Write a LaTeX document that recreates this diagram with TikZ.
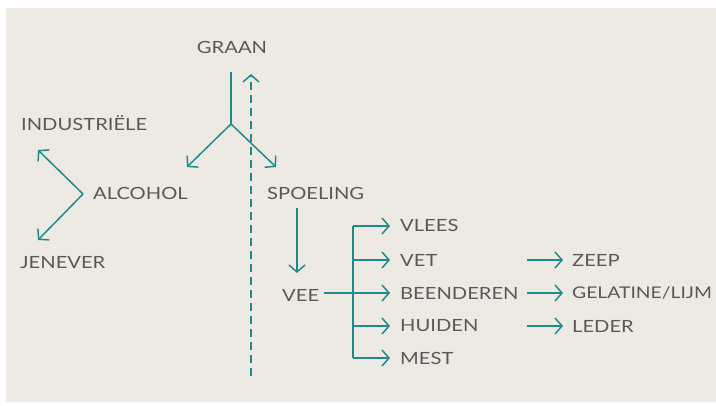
\documentclass[tikz,border=0pt]{standalone}
\usepackage{fontspec}
\setmainfont{Lato}[FakeStretch=1.2]
\usetikzlibrary{arrows.meta}
\definecolor{bgc}{HTML}{EDEAE4}
\definecolor{teal}{HTML}{1E8A8A}
\definecolor{txt}{HTML}{585858}
\begin{document}
\begin{tikzpicture}[x=1pt,y=-1pt,
  lbl/.style={inner sep=0pt,text=txt,font=\fontsize{16.8}{19}\selectfont},
  conn/.style={draw=teal,line width=1.5pt},
  tip/.style={-{Straight Barb[length=7pt,width=16pt,line width=1.5pt]}},
  arr/.style={conn,tip},
  dsh/.style={conn,dash pattern=on 8pt off 5pt}]
\useasboundingbox (0,0) rectangle (716,406);
\fill[white] (0,0) rectangle (716,406);
\fill[bgc] (6,8) rectangle (716,402);
% labels
\node[lbl] (graan) at (232,47) {GRAAN};
\node[lbl,anchor=west] (ind) at (21,123) {INDUSTRIËLE};
\node[lbl,anchor=west] (alc) at (93,193) {ALCOHOL};
\node[lbl,anchor=west] (jen) at (20,263) {JENEVER};
\node[lbl,anchor=west] (spo) at (267,193) {SPOELING};
\node[lbl,anchor=west] (vee) at (282,295) {VEE};
\node[lbl,anchor=west] (vlees) at (400,225) {VLEES};
\node[lbl,anchor=west] (vet) at (400,260) {VET};
\node[lbl,anchor=west] (been) at (400,293) {BEENDEREN};
\node[lbl,anchor=west] (huid) at (400,326) {HUIDEN};
\node[lbl,anchor=west] (mest) at (400,358) {MEST};
\node[lbl,anchor=west] (zeep) at (572,260) {ZEEP};
\node[lbl,anchor=west,font=\fontsize{16.1}{19}\selectfont] (gel) at (572,293) {GELATINE/LIJM};
\node[lbl,anchor=west] (led) at (572,326) {LEDER};
% coordinates
\coordinate (gtop) at (231,72);
\coordinate (gsplit) at (231,124);
\coordinate (gl) at (187,167);
\coordinate (gr) at (276,167);
\coordinate (dtop) at (251,74);
\coordinate (dbot) at (251,376);
\coordinate (apex) at (83,194);
\coordinate (aup) at (38,150);
\coordinate (adn) at (38,240);
\coordinate (stop) at (297,208);
\coordinate (sbot) at (297,273);
\coordinate (vstart) at (324,293);
\coordinate (bus1) at (353,226);
\coordinate (bus2) at (353,358);
% graan
\draw[conn] (gtop) -- (gsplit);
\draw[arr] (gsplit) -- (gl);
\draw[arr] (gsplit) -- (gr);
\draw[dsh,tip] (dbot) -- (dtop);
% alcohol
\draw[arr] (apex) -- (aup);
\draw[arr] (apex) -- (adn);
% spoeling to vee
\draw[arr] (stop) -- (sbot);
% vee bus
\draw[conn] (vstart) -- (353,293);
\draw[conn] (bus1) -- (bus2);
\foreach \n/\y in {vlees/226,vet/260,been/293,huid/326,mest/358}
  \draw[arr] (353,\y) -- ([xshift=-10pt]\n.west |- 0,\y);
% right arrows
\foreach \n/\y in {zeep/260,gel/293,led/326}
  \draw[arr] (527,\y) -- ([xshift=-9pt]\n.west |- 0,\y);
\end{tikzpicture}
\end{document}
